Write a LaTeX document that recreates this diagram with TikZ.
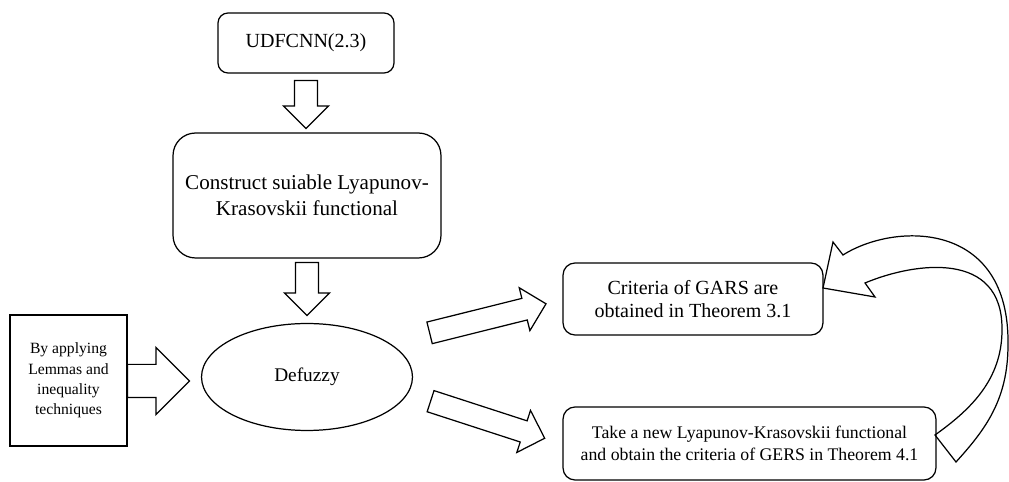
\documentclass[tikz,border=0pt]{standalone}
\usepackage{fontspec}
\setmainfont{Liberation Serif}
\usetikzlibrary{shapes.geometric,shapes.arrows}

\begin{document}
\begin{tikzpicture}[x=0.02cm,y=-0.02cm,line width=0.7pt,
  box/.style={draw,align=center,inner sep=0pt},
  fat/.style={draw,single arrow,single arrow tip angle=90,anchor=tail,
    inner xsep=0pt,inner ysep=0.22cm,minimum width=0.88cm,
    single arrow head extend=0.22cm}]
\useasboundingbox (0,0) rectangle (1009,482);
% boxes
\node[box,rounded corners=0.2cm,minimum width=3.52cm,minimum height=1.2cm,
  font=\fontsize{11.4}{13.5}\selectfont] (udf) at (306,43) {UDFCNN(2.3)};
\node[box,rounded corners=0.45cm,minimum width=5.36cm,minimum height=2.5cm,
  font=\fontsize{12}{15}\selectfont] (lkf) at (307,195.5)
  {Construct suiable Lyapunov-\\Krasovskii functional};
\node[box,minimum width=2.34cm,minimum height=2.62cm,
  font=\fontsize{8.9}{11.6}\selectfont] (lem) at (68.5,380.5)
  {By applying\\Lemmas and\\inequality\\techniques};
\node[box,ellipse,minimum width=4.22cm,minimum height=2.14cm,
  font=\fontsize{11}{13}\selectfont] (def) at (307,377) {Defuzzy};
\node[box,rounded corners=0.24cm,minimum width=5.2cm,minimum height=1.44cm,
  font=\fontsize{11.4}{13.2}\selectfont] (gars) at (693,299)
  {Criteria of GARS are\\obtained in Theorem 3.1};
\node[box,rounded corners=0.24cm,minimum width=7.46cm,minimum height=1.46cm,
  font=\fontsize{10.1}{12.3}\selectfont] (gers) at (749.5,443.5)
  {Take a new Lyapunov-Krasovskii functional\\and obtain the criteria of GERS in Theorem 4.1};
% block arrows
\node[fat,rotate=-90,minimum height=0.96cm] (a1) at (306,80) {};
\node[fat,rotate=-90,minimum height=1.06cm] (a2) at (307,262) {};
\node[fat,minimum height=1.24cm,inner ysep=0.32cm,minimum width=1.32cm,
  single arrow head extend=0.34cm] (a3) at (127,381) {};
\node[fat,rotate=14,minimum height=2.4cm,inner ysep=0.21cm] (a4) at (429,333) {};
\node[fat,rotate=-18,minimum height=2.4cm,inner ysep=0.21cm] (a5) at (430,401) {};
% curved arrow back to GARS
\draw (935,435) .. controls (970,410) and (1002,380) .. (1002,330)
  .. controls (1003,250) and (915,262) .. (865,283)
  -- (875,297) -- (823,288) -- (833,242) -- (843,255)
  .. controls (895,222) and (1010,220) .. (1008,345)
  .. controls (1008,400) and (985,430) .. (956,462) -- cycle;
\end{tikzpicture}
\end{document}
